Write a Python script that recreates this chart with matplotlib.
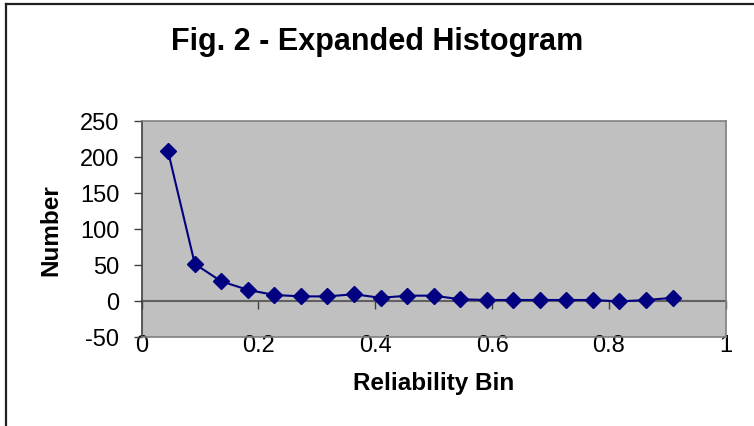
import matplotlib
matplotlib.use("Agg")
import matplotlib.pyplot as plt
from matplotlib.lines import Line2D

# Data
bins = [0.045, 0.091, 0.136, 0.182, 0.227, 0.273, 0.318, 0.364, 0.409, 0.455,
        0.500, 0.545, 0.591, 0.636, 0.682, 0.727, 0.773, 0.818, 0.864, 0.909]
counts = [208, 51, 27, 15, 8, 6, 6, 9, 4, 7,
          7, 2, 1, 1, 1, 1, 1, -1, 1, 4]

x_ticks = [0, 0.2, 0.4, 0.6, 0.8, 1]
x_labels = ["0", "0.2", "0.4", "0.6", "0.8", "1"]
y_ticks = [-50, 0, 50, 100, 150, 200, 250]

plt.rcParams['font.family'] = ['Liberation Sans', 'DejaVu Sans']

fig = plt.figure(figsize=(7.54, 4.27), dpi=100)
ax = fig.add_axes([0.1879, 0.2091, 0.9625 - 0.1879, 0.715 - 0.2091])
ax.set_facecolor('#C0C0C0')

ax.plot(bins, counts, color='#000080', linewidth=1.5, marker='D',
        markersize=8.5, markerfacecolor='#000080', markeredgecolor='#000080')

ax.set_xlim(0, 1)
ax.set_ylim(-50, 250)
ax.set_yticks(y_ticks)
ax.set_yticklabels([str(v) for v in y_ticks])
ax.set_xticks(x_ticks)
ax.set_xticklabels(x_labels)

ax.tick_params(axis='y', direction='out', length=6, width=1, colors='#404040',
               labelcolor='black', labelsize=17, pad=10)
ax.tick_params(axis='x', length=0, labelsize=17, pad=-2)

for side in ['top', 'right', 'bottom']:
    ax.spines[side].set_color('#808080')
    ax.spines[side].set_linewidth(1.2)
ax.spines['left'].set_color('#404040')
ax.spines['left'].set_linewidth(1.2)

# axis line at y = 0 with tick marks
sec = ax.secondary_xaxis(50 / 300)
sec.set_xticks(x_ticks)
sec.set_xticklabels([])
sec.tick_params(direction='out', length=6, width=1, colors='#404040')
sec.spines['bottom'].set_color('#606060')
sec.spines['bottom'].set_linewidth(1.5)

ax.set_xlabel('Reliability Bin', fontsize=17.5, fontweight='bold', labelpad=11)
ax.set_ylabel('Number', fontsize=17.5, fontweight='bold', labelpad=13)

fig.text(0.5, 1 - 42 / 427, 'Fig. 2 - Expanded Histogram', ha='center',
         va='center', fontsize=22, fontweight='bold')

# chart area border (top and left visible)
fig.add_artist(Line2D([6 / 754, 6 / 754], [0, 1 - 5 / 427], color='#202020',
                      linewidth=1.6, transform=fig.transFigure))
fig.add_artist(Line2D([6 / 754, 1], [1 - 5 / 427, 1 - 5 / 427], color='#202020',
                      linewidth=1.6, transform=fig.transFigure))

fig.savefig('out.png', dpi=100)
